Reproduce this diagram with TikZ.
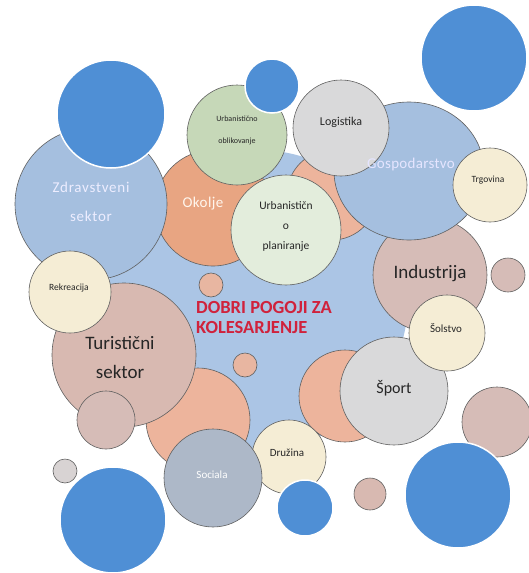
\documentclass[tikz,border=0pt]{standalone}
\usepackage{fontspec}
\usetikzlibrary{shapes.geometric}
\setmainfont{Carlito}
\definecolor{bigblue}{HTML}{4F8FD5}
\definecolor{midblue}{HTML}{A5BFDF}
\definecolor{backblue}{HTML}{ABC5E5}
\definecolor{okolje}{HTML}{E8A582}
\definecolor{salmon}{HTML}{EDB49C}
\definecolor{greenA}{HTML}{C6D8B8}
\definecolor{greenB}{HTML}{E3EDDC}
\definecolor{lgray}{HTML}{D9D9DA}
\definecolor{rosy}{HTML}{D6BCB7}
\definecolor{rosyB}{HTML}{D8B9B1}
\definecolor{cream}{HTML}{F5EDD5}
\definecolor{sociala}{HTML}{ADB8C8}
\definecolor{titlered}{HTML}{D0223C}
\definecolor{txtgray}{HTML}{262626}
\tikzset{
  bub/.style={circle, draw=gray!75!black, line width=0.6pt, inner sep=0pt},
  big/.style={circle, fill=bigblue, draw=white, line width=1.5pt, inner sep=0pt},
  lbl/.style={text=txtgray, align=center, inner sep=0pt},
  wlbl/.style={text=white, align=center, inner sep=0pt},
}
\begin{document}
\begin{tikzpicture}[x=1pt,y=-1pt]
\useasboundingbox (0,0) rectangle (528,573);
% central background
\node[circle, fill=backblue, minimum size=300pt, inner sep=0pt] (back) at (258,300) {};
% orange/salmon background circles
\node[bub, fill=okolje, minimum size=116pt] (okolje) at (213,208) {};
\node[bub, fill=salmon, minimum size=90pt] (sal1) at (332,195) {};
\node[bub, fill=salmon, minimum size=92pt] (sal2) at (345,396) {};
\node[bub, fill=salmon, minimum size=104pt] (sal3) at (198,420) {};
% main bubbles
\node[bub, fill=midblue, minimum size=152pt] (zdrav) at (91,204) {};
\node[bub, fill=greenA, minimum size=100pt] (uobl) at (237,135) {};
\node[bub, fill=greenB, minimum size=110pt] (uplan) at (286,230) {};
\node[bub, fill=rosy, minimum size=114pt] (indu) at (430,275) {};
\node[draw=gray!75!black, line width=0.6pt, inner sep=0pt, fill=midblue, ellipse, minimum width=150pt, minimum height=138pt] (gosp) at (409,171) {};
\node[bub, fill=lgray, minimum size=96pt] (logi) at (341,128) {};
\node[bub, fill=cream, minimum size=74pt] (trgo) at (490,185) {};
\node[bub, fill=lgray, minimum size=108pt] (sport) at (394,391) {};
\node[bub, fill=cream, minimum size=76pt] (sols) at (447,333) {};
\node[bub, fill=cream, minimum size=74pt] (druz) at (289,457) {};
\node[bub, fill=sociala, minimum size=98pt] (soci) at (213,478) {};
\node[bub, fill=rosyB, minimum size=144pt] (turi) at (124,355) {};
\node[bub, fill=rosy, minimum size=58pt] (sr1) at (106,420) {};
\node[bub, fill=cream, minimum size=82pt] (rekr) at (70,292) {};
% small circles
\node[bub, fill=rosy, minimum size=34pt] (sg1) at (508,275) {};
\node[bub, fill=rosy, minimum size=70pt] (sr2) at (497,422) {};
\node[bub, fill=rosyB, minimum size=32pt] (sr3) at (370,494) {};
\node[bub, fill=lgray!80!rosy, minimum size=24pt] (sg2) at (65,471) {};
\node[bub, fill=salmon!80!rosy, minimum size=24pt] (sr4) at (211,285) {};
\node[bub, fill=salmon!80!rosy, minimum size=24pt] (sr5) at (245,365) {};
% big blue circles
\node[big, minimum size=106pt] (b1) at (474,58) {};
\node[big, minimum size=108pt] (b2) at (111,114) {};
\node[big, minimum size=54pt] (b3) at (272,86) {};
\node[big, minimum size=106pt] (b4) at (458,495) {};
\node[big, minimum size=106pt] (b5) at (113,520) {};
\node[big, minimum size=56pt] (b6) at (305,508) {};
% labels
\node[wlbl, font=\fontsize{15}{29}\selectfont\addfontfeatures{LetterSpace=5}, text=white!93!blue] (tzdrav) at (91,202) {Zdravstveni\\sektor};
\node[wlbl, font=\fontsize{15}{18}\selectfont\addfontfeatures{LetterSpace=3}, text=white!93!orange] (tokolje) at (203,204) {Okolje};
\node[lbl, font=\fontsize{8}{22}\selectfont] (tuobl) at (237,130) {Urbanistično\\oblikovanje};
\node[lbl, font=\fontsize{11.5}{20}\selectfont] (tuplan) at (286,226) {Urbanističn\\o\\planiranje};
\node[lbl, font=\fontsize{12}{14}\selectfont] (tlogi) at (341,122) {Logistika};
\node[wlbl, font=\fontsize{15}{18}\selectfont\addfontfeatures{LetterSpace=2}, text=white!90!blue] (tgosp) at (411,164) {Gospodarstvo};
\node[lbl, font=\fontsize{9.5}{12}\selectfont] (ttrgo) at (488,180) {Trgovina};
\node[lbl, font=\fontsize{19}{22}\selectfont] (tindu) at (430,274) {Industrija};
\node[lbl, font=\fontsize{11}{13}\selectfont] (tsols) at (446,328) {Šolstvo};
\node[lbl, font=\fontsize{16}{18}\selectfont] (tsport) at (394,388) {Šport};
\node[lbl, font=\fontsize{11}{13}\selectfont] (tdruz) at (287,453) {Družina};
\node[wlbl, font=\fontsize{11}{13}\selectfont] (tsoci) at (212,475) {Sociala};
\node[lbl, font=\fontsize{19}{29}\selectfont] (tturi) at (120,357) {Turistični\\sektor};
\node[lbl, font=\fontsize{9.5}{11}\selectfont] (trekr) at (69,288) {Rekreacija};
\node[align=left, text=titlered, font=\bfseries\fontsize{18.5}{20}\selectfont, inner sep=0pt, anchor=west] (title) at (196,317.5) {DOBRI POGOJI ZA\\KOLESARJENJE};
\end{tikzpicture}
\end{document}
